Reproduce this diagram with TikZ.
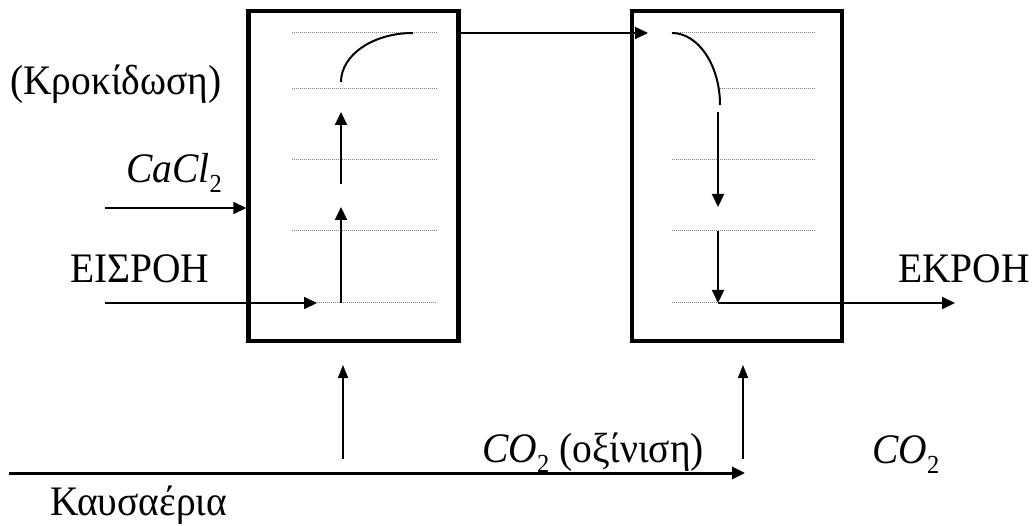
\documentclass[tikz,border=0pt]{standalone}
\usepackage{fontspec}
\setmainfont[FakeStretch=0.94]{Liberation Serif}
\usetikzlibrary{arrows.meta}
\newcommand\lowsub[1]{\raisebox{-10pt}{\fontsize{26}{26}\selectfont #1}}
\begin{document}
\begin{tikzpicture}[x=1pt,y=-1pt,
  lbl/.style={anchor=base west,inner sep=0pt,font=\fontsize{42}{48}\selectfont},
  tank/.style={draw,line width=4.5pt,minimum width=210pt,minimum height=330pt,inner sep=0pt},
  flow/.style={line width=2pt,-{Triangle[length=13pt,width=12pt]}},
  gas/.style={line width=1.5pt,-{Triangle[length=13pt,width=10pt]}},
  tray/.style={gray,dash pattern=on 1.2pt off 0.8pt,line width=1pt},
  plain/.style={line width=2pt}]
\useasboundingbox (0,0) rectangle (1035,526);
% tanks
\node[tank] (L) at (353.5,176) {};
\node[tank] (R) at (737,176) {};
% trays left
\foreach \yy in {33,89,160,231} {\draw[tray] (292,\yy) -- (437,\yy);}
\draw[tray] (317,303) -- (437,303);
% trays right
\foreach \yy in {33,160,231} {\draw[tray] (672,\yy) -- (815,\yy);}
\draw[tray] (720,89) -- (815,89);
\draw[tray] (672,303) -- (720,303);
% coordinates
\coordinate (inS) at (105,303);
\coordinate (inE) at (317,303);
\coordinate (caS) at (105,208);
\coordinate (a1S) at (341,303);
\coordinate (a1E) at (341,207);
\coordinate (a2S) at (341,184);
\coordinate (a2E) at (341,112);
\coordinate (cLS) at (341,82);
\coordinate (cLE) at (413,33);
\coordinate (tS) at (L.east |- 0,33);
\coordinate (tE) at (648,33);
\coordinate (cRS) at (672,33);
\coordinate (cRE) at (720,105);
\coordinate (b1S) at (718,112);
\coordinate (b1E) at (718,207);
\coordinate (b2S) at (718,231);
\coordinate (b2E) at (718,303);
\coordinate (outE) at (955,303);
\coordinate (gS) at (9,473);
\coordinate (gE) at (745,473);
\coordinate (v1S) at (343,459);
\coordinate (v1E) at (343,365);
\coordinate (v2S) at (743,459);
\coordinate (v2E) at (743,365);
% flows
\draw[flow] (inS) -- (inE);
\draw[flow] (caS) -- (caS -| L.west);
\draw[flow] (a1S) -- (a1E);
\draw[flow] (a2S) -- (a2E);
\draw[plain] (cLS) .. controls (341,55) and (373,33) .. (cLE);
\draw[flow] (tS) -- (tE);
\draw[plain] (cRS) .. controls (698,33) and (720,65) .. (cRE);
\draw[flow] (b1S) -- (b1E);
\draw[flow] (b2S) -- (b2E);
\draw[flow] (b2E) -- (outE);
\draw[line width=3pt,-{Triangle[length=13pt,width=12pt]}] (gS) -- (gE);
\draw[gas] (v1S) -- (v1E);
\draw[gas] (v2S) -- (v2E);
% labels
\node[lbl] (t1) at (10,95) {(Κροκίδωση)};
\node[lbl] (t2) at (126,183) {\itshape CaCl\upshape\lowsub{2}};
\node[lbl] (t3) at (70,283) {ΕΙΣΡΟΗ};
\node[lbl] (t4) at (898,283) {ΕΚΡΟΗ};
\node[lbl] (t5) at (50,515) {Καυσαέρια};
\node[lbl] (t6) at (482,462) {\itshape CO\upshape\lowsub{2} (οξίνιση)};
\node[lbl] (t7) at (872,463) {\itshape CO\upshape\lowsub{2}};
\end{tikzpicture}
\end{document}
